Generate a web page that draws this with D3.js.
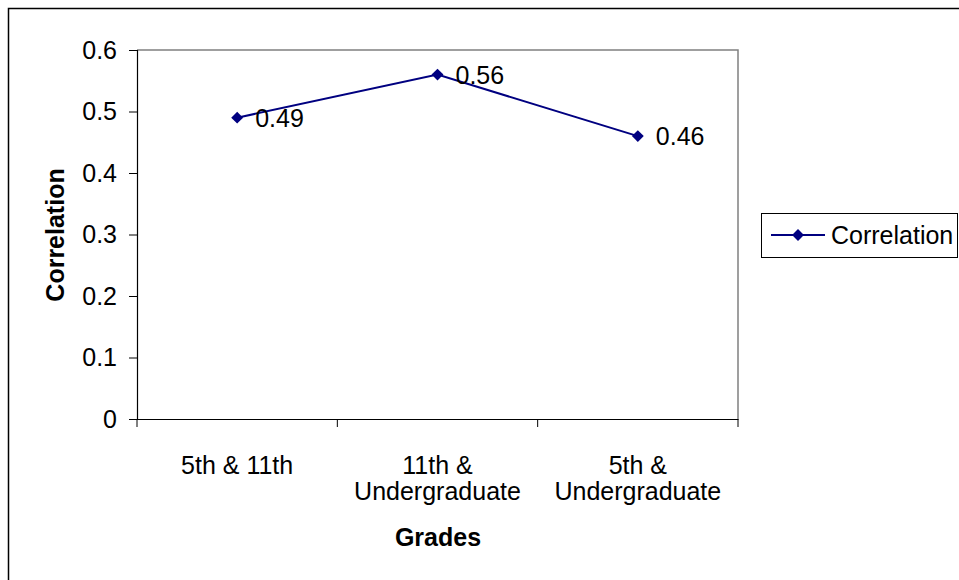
<!DOCTYPE html>
<html>
<head>
<meta charset="utf-8">
<script src="https://cdn.jsdelivr.net/npm/d3@7"></script>
<style>
	body { margin: 0; background: #fff; }
	svg { display: block; font-family: Arial, "Liberation Sans", sans-serif; }
</style>
</head>
<body>
<script>
// chart data
const categories = [["5th & 11th"], ["11th &", "Undergraduate"], ["5th &", "Undergraduate"]];
const correlation = [0.49, 0.56, 0.46];
const yTicks = [0, 0.1, 0.2, 0.3, 0.4, 0.5, 0.6];
const seriesName = "Correlation";

const width = 959, height = 580;
const plot = { left: 137, right: 738, top: 50, bottom: 419 };
const navy = "#000080";
const fontSize = 25;
const fontFamily = "Arial, 'Liberation Sans', sans-serif";

const svg = d3.select("body").append("svg")
	.attr("width", width)
	.attr("height", height);

// outer chart border
svg.append("rect")
	.attr("x", 8.5).attr("y", 8.5)
	.attr("width", 960).attr("height", 580)
	.attr("fill", "#fff")
	.attr("stroke", "#000")
	.attr("stroke-width", 1.5);

const x = d3.scaleBand()
	.domain(d3.range(categories.length))
	.range([plot.left, plot.right]);

const y = d3.scaleLinear()
	.domain([0, 0.6])
	.range([plot.bottom, plot.top]);

// plot area frame (grey top & right)
svg.append("path")
	.attr("d", `M${plot.left},${plot.top}H${plot.right}V${plot.bottom}`)
	.attr("fill", "none")
	.attr("stroke", "#808080")
	.attr("stroke-width", 1.5);

// y axis
const yAxis = svg.append("g")
	.attr("transform", `translate(${plot.left},0)`)
	.call(d3.axisLeft(y).tickValues(yTicks).tickSize(8).tickPadding(12).tickFormat(d => d === 0 ? "0" : d3.format(".1f")(d)));

// x axis, ticks on band boundaries
const xAxis = svg.append("g")
	.attr("transform", `translate(0,${plot.bottom})`)
	.call(d3.axisBottom(x).tickSize(0).tickFormat(""));

xAxis.selectAll(".bound")
	.data(d3.range(categories.length + 1))
	.enter()
	.append("line")
	.attr("class", "bound")
	.attr("x1", i => plot.left + i * x.bandwidth())
	.attr("x2", i => plot.left + i * x.bandwidth())
	.attr("y1", 0)
	.attr("y2", 8)
	.attr("stroke", "#000");

[yAxis, xAxis].forEach(a => {
	a.attr("font-size", fontSize).attr("font-family", fontFamily);
	a.select(".domain").attr("stroke", "#000").attr("stroke-width", 1.2);
	a.selectAll(".tick line").attr("stroke", "#000");
	a.selectAll("text").attr("fill", "#000");
});

// category labels
svg.append("g").selectAll("text")
	.data(categories)
	.enter()
	.append("text")
	.attr("x", (d, i) => x(i) + x.bandwidth() / 2)
	.attr("y", 474)
	.attr("text-anchor", "middle")
	.attr("font-size", fontSize)
	.each(function(d) {
		d3.select(this).selectAll("tspan")
			.data(d)
			.enter()
			.append("tspan")
			.attr("x", d3.select(this).attr("x"))
			.attr("dy", (t, j) => j === 0 ? 0 : 26)
			.text(t => t);
	});

// axis titles
svg.append("text")
	.attr("x", 438).attr("y", 546)
	.attr("text-anchor", "middle")
	.attr("font-size", fontSize).attr("font-weight", "bold")
	.text("Grades");

svg.append("text")
	.attr("transform", "translate(64,235) rotate(-90)")
	.attr("text-anchor", "middle")
	.attr("font-size", fontSize).attr("font-weight", "bold")
	.text("Correlation");

// series line
const line = d3.line()
	.x((d, i) => x(i) + x.bandwidth() / 2)
	.y(d => y(d));

svg.append("path")
	.datum(correlation)
	.attr("d", line)
	.attr("fill", "none")
	.attr("stroke", navy)
	.attr("stroke-width", 2);

const diamond = d3.symbol().type(d3.symbolDiamond2).size(90);

svg.append("g").selectAll("path")
	.data(correlation)
	.enter()
	.append("path")
	.attr("d", diamond)
	.attr("transform", (d, i) => `translate(${x(i) + x.bandwidth() / 2},${y(d)})`)
	.attr("fill", navy);

// data labels
svg.append("g").selectAll("text")
	.data(correlation)
	.enter()
	.append("text")
	.attr("x", (d, i) => x(i) + x.bandwidth() / 2 + 18)
	.attr("y", d => y(d) + 9)
	.attr("font-size", fontSize)
	.text(d => d3.format(".2f")(d));

// legend
const legend = svg.append("g").attr("transform", "translate(761,213)");
legend.append("rect")
	.attr("x", 0.5).attr("y", 0.5)
	.attr("width", 196).attr("height", 44)
	.attr("fill", "#fff")
	.attr("stroke", "#000");
legend.append("line")
	.attr("x1", 10).attr("x2", 64)
	.attr("y1", 22).attr("y2", 22)
	.attr("stroke", navy).attr("stroke-width", 2);
legend.append("path")
	.attr("d", diamond)
	.attr("transform", "translate(37,22)")
	.attr("fill", navy);
legend.append("text")
	.attr("x", 70).attr("y", 31)
	.attr("font-size", fontSize)
	.text(seriesName);
</script>
</body>
</html>
